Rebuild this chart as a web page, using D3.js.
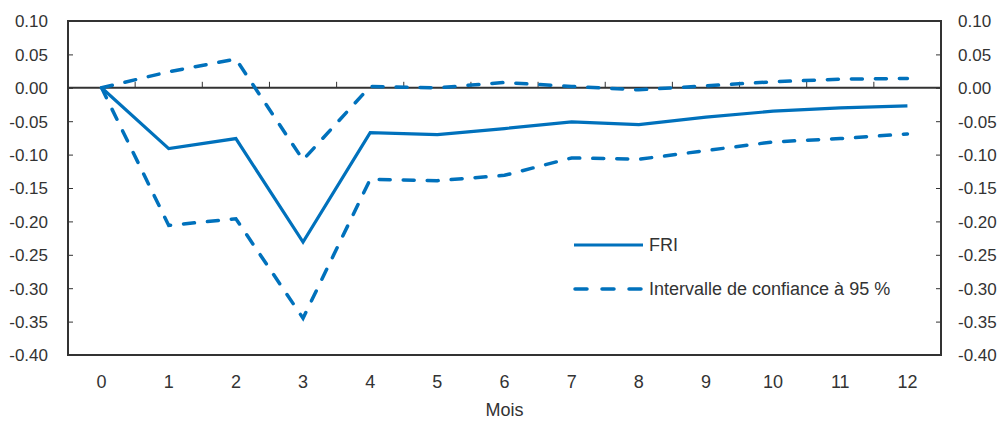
<!DOCTYPE html>
<html>
<head>
<meta charset="utf-8">
<script src="https://cdn.jsdelivr.net/npm/d3@7"></script>
<style>
  body { margin: 0; background: #fff; }
  text { font-family: "Liberation Sans", Arial, sans-serif; fill: #333; }
</style>
</head>
<body>
<svg width="998" height="422"></svg>
<script>
var months = [0, 1, 2, 3, 4, 5, 6, 7, 8, 9, 10, 11, 12];
var fri   = [0, -0.091, -0.076, -0.231, -0.067, -0.070, -0.061, -0.051, -0.055, -0.044, -0.035, -0.030, -0.027];
var upper = [0, 0.024, 0.043, -0.108, 0.002, 0.000, 0.008, 0.002, -0.003, 0.003, 0.009, 0.013, 0.014];
var lower = [0, -0.206, -0.196, -0.345, -0.137, -0.139, -0.131, -0.105, -0.107, -0.094, -0.081, -0.076, -0.069];
var yTicks = [0.10, 0.05, 0, -0.05, -0.10, -0.15, -0.20, -0.25, -0.30, -0.35, -0.40];

var svg = d3.select("svg"),
    margin = {top: 21, right: 57, bottom: 67, left: 68},
    width = 998 - margin.left - margin.right,
    height = 422 - margin.top - margin.bottom,
    g = svg.append("g").attr("transform", "translate(" + margin.left + "," + margin.top + ")");

var blue = "#0071bc", axisCol = "#333", fs = "17px", fsL = "18px";

var xScale = d3.scaleBand().domain(months).range([0, width]),
    yScale = d3.scaleLinear().domain([-0.40, 0.10]).range([height, 0]);

var xPos = function (i) { return xScale(months[i]) + xScale.bandwidth() / 2; };

// y axes, ticks pointing inward (plain hyphen as minus sign)
var fmt = function (d) { return d.toFixed(2); };
var yLeft = g.append("g")
    .call(d3.axisRight(yScale).tickValues(yTicks).tickSize(5).tickFormat(fmt));
yLeft.selectAll("text").attr("x", -20).attr("text-anchor", "end");
var yRight = g.append("g").attr("transform", "translate(" + width + ",0)")
    .call(d3.axisLeft(yScale).tickValues(yTicks).tickSize(5).tickFormat(fmt));
yRight.selectAll("text").attr("x", 17).attr("text-anchor", "start");
[yLeft, yRight].forEach(function (a) {
    a.select(".domain").remove();
    a.selectAll("line").attr("stroke", axisCol);
    a.selectAll("text").style("font-size", fs).attr("fill", axisCol).attr("dy", "0.35em");
});

// frame
g.append("rect").attr("width", width).attr("height", height)
    .attr("fill", "none").attr("stroke", axisCol).attr("stroke-width", 2);

// x labels below
var xAxis = g.append("g").attr("transform", "translate(0," + height + ")")
    .call(d3.axisBottom(xScale).tickSize(0).tickPadding(20));
xAxis.select(".domain").remove();
xAxis.selectAll("text").style("font-size", fsL).attr("fill", axisCol);

// zero line with ticks at band boundaries
g.append("line").attr("x1", 0).attr("x2", width)
    .attr("y1", yScale(0)).attr("y2", yScale(0))
    .attr("stroke", axisCol).attr("stroke-width", 2);
g.selectAll(".zt").data(months.slice(1)).enter().append("line")
    .attr("x1", function (d) { return xScale(d); })
    .attr("x2", function (d) { return xScale(d); })
    .attr("y1", yScale(0)).attr("y2", yScale(0) - 6)
    .attr("stroke", axisCol).attr("stroke-width", 1);

g.append("text").attr("x", width / 2).attr("y", height + 61)
    .attr("text-anchor", "middle").style("font-size", fsL).text("Mois");

var line = d3.line()
    .x(function (d, i) { return xPos(i); })
    .y(function (d) { return yScale(d); });

[upper, lower].forEach(function (s) {
    g.append("path").attr("d", line(s)).attr("fill", "none")
        .attr("stroke", blue).attr("stroke-width", 3.5)
        .attr("stroke-dasharray", "11,13").attr("stroke-linecap", "round");
});
g.append("path").attr("d", line(fri)).attr("fill", "none")
    .attr("stroke", blue).attr("stroke-width", 3.2).attr("stroke-linejoin", "miter");

// legend
var leg = svg.append("g").attr("transform", "translate(574,245)");
leg.append("line").attr("x1", 0).attr("x2", 69).attr("stroke", blue).attr("stroke-width", 3.2);
leg.append("text").attr("x", 75).attr("dy", "0.35em").style("font-size", fsL).text("FRI");
leg.append("line").attr("x1", 1).attr("x2", 69).attr("y1", 44).attr("y2", 44)
    .attr("stroke", blue).attr("stroke-width", 3.5)
    .attr("stroke-dasharray", "12,15").attr("stroke-linecap", "round");
leg.append("text").attr("x", 75).attr("y", 44).attr("dy", "0.35em").style("font-size", fsL)
    .text("Intervalle de confiance à 95 %");
</script>
</body>
</html>
